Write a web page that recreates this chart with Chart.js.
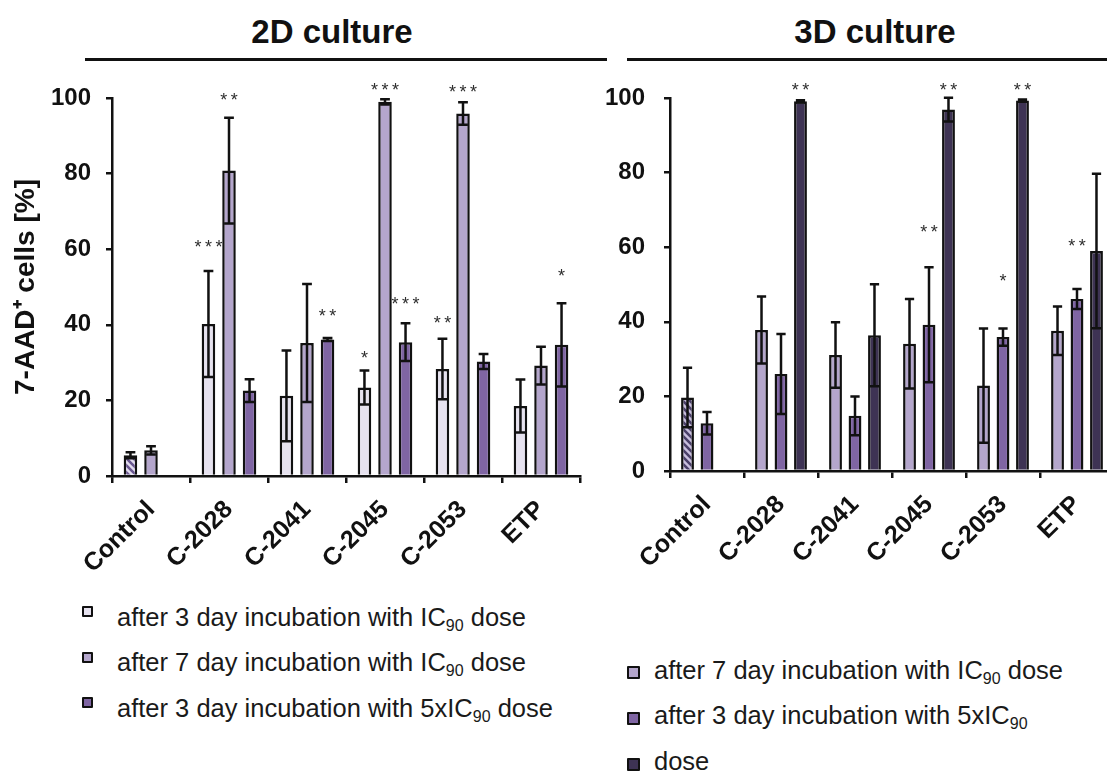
<!DOCTYPE html>
<html>
<head>
<meta charset="utf-8">
<script src="https://cdn.jsdelivr.net/npm/chart.js@4.4.1/dist/chart.umd.min.js"></script>
<style>
  body { margin: 0; background: #fff; width: 1107px; height: 776px; overflow: hidden; position: relative;
         font-family: "Liberation Sans", Arial, sans-serif; color: #1a1a1a; }
  .titulo { position: absolute; width: 300px; text-align: center; font-weight: bold; font-size: 33px; line-height: 33px; color: #111; }
  .linha { position: absolute; top: 58px; height: 2.5px; background: #111; }
  .caixa { position: absolute; overflow: hidden; }
  .item { position: absolute; white-space: nowrap; font-size: 25.5px; line-height: 25.5px; }
  .item sub { font-size: 16px; vertical-align: -5px; line-height: 0; }
  .quad { position: absolute; border: 2px solid #111; box-sizing: border-box; border-radius: 1px; }
</style>
</head>
<body>

<div class="titulo" style="left:182px; top:15px;">2D culture</div>
<div class="linha" style="left:85px; width:522px;"></div>
<div class="titulo" style="left:725px; top:15px;">3D culture</div>
<div class="linha" style="left:627px; width:480px;"></div>

<div class="caixa" style="left:0; top:80px; width:600px; height:520px;">
  <canvas id="Grafico2D" width="600" height="520"></canvas>
</div>
<div class="caixa" style="left:600px; top:80px; width:507px; height:520px;">
  <canvas id="Grafico3D" width="530" height="520"></canvas>
</div>

<!-- legendas -->
<div class="quad" style="left:82px; top:606px; width:11px; height:11px; background:#e6e2ef;"></div>
<div class="item" style="left:117px; top:605px;">after 3 day incubation with IC<sub>90</sub> dose</div>
<div class="quad" style="left:82px; top:652px; width:11px; height:11px; background:#b4a6cc;"></div>
<div class="item" style="left:117px; top:650px;">after 7 day incubation with IC<sub>90</sub> dose</div>
<div class="quad" style="left:82px; top:697px; width:11px; height:11px; background:#7f65a3;"></div>
<div class="item" style="left:117px; top:696px;">after 3 day incubation with 5xIC<sub>90</sub> dose</div>

<div class="quad" style="left:627px; top:666px; width:13px; height:13px; background:#b4a6cc;"></div>
<div class="item" style="left:654px; top:658px;">after 7 day incubation with IC<sub>90</sub> dose</div>
<div class="quad" style="left:627px; top:712px; width:13px; height:13px; background:#7f65a3;"></div>
<div class="item" style="left:654px; top:703px;">after 3 day incubation with 5xIC<sub>90</sub></div>
<div class="quad" style="left:627px; top:758px; width:13px; height:13px; background:#3e3354;"></div>
<div class="item" style="left:654px; top:749px;">dose</div>

<script>
// categorias e valores
var categorias = ['Control', 'C-2028', 'C-2041', 'C-2045', 'C-2053', 'ETP'];
var ticksY = [0, 20, 40, 60, 80, 100];

// 2D culture
var valores2D_3dIC90 = [5.5, 40.2, 21.2, 23.4, 28.3, 18.5];
var erro2D_3dIC90    = [0.8, 14.0, 12.0, 4.5, 8.0, 7.0];
var valores2D_7dIC90 = [6.8, 80.8, 35.2, 99.0, 95.9, 29.2];
var erro2D_7dIC90    = [1.1, 14.0, 15.6, 0.7, 3.0, 5.0];
var valores2D_3d5x   = [null, 22.6, 36.1, 35.4, 30.3, 34.7];
var erro2D_3d5x      = [null, 3.0, 0.4, 5.0, 2.0, 11.0];

var estrelas2D_3dIC90 = ['', '***', '', '*', '**', ''];
var nivel2D_3dIC90    = [null, 61.7, null, 32.2, 41.6, null];
var estrelas2D_7dIC90 = ['', '**', '', '***', '***', ''];
var nivel2D_7dIC90    = [null, 100.6, null, 103.1, 102.6, null];
var estrelas2D_3d5x   = ['', '', '**', '***', '', '*'];
var nivel2D_3d5x      = [null, null, 43.4, 46.5, null, 53.9];

// 3D culture
var valores3D_7dIC90 = [19.7, 37.8, 31.1, 34.1, 22.9, 37.6];
var erro3D_7dIC90    = [8.0, 9.0, 8.8, 12.0, 15.3, 6.5];
var valores3D_3d5x   = [12.8, 26.0, 14.8, 39.2, 35.9, 46.1];
var erro3D_3d5x      = [3.0, 10.7, 5.2, 15.4, 2.3, 2.7];
var valores3D_dose   = [null, 99.1, 36.4, 96.9, 99.3, 59.0];
var erro3D_dose      = [null, 0.3, 13.7, 3.2, 0.3, 20.7];

var estrelas3D_7dIC90 = ['', '', '', '', '', ''];
var nivel3D_7dIC90    = [null, null, null, null, null, null];
var estrelas3D_3d5x   = ['', '', '', '**', '*', '**'];
var nivel3D_3d5x      = [null, null, null, 65.1, 52.1, 61.5];
var estrelas3D_dose   = ['', '**', '', '**', '**', ''];
var nivel3D_dose      = [null, 103.1, null, 103.1, 103.1, null];

var fonte = '"Liberation Sans", Arial, sans-serif';
Chart.defaults.font.family = fonte;
Chart.defaults.color = '#111';

// padrao listrado das barras de controle
function listrado(corFundo, corListra) {
    var p = document.createElement('canvas');
    p.width = 7; p.height = 7;
    var g = p.getContext('2d');
    g.fillStyle = corFundo;
    g.fillRect(0, 0, 7, 7);
    g.strokeStyle = corListra;
    g.lineWidth = 2.6;
    g.beginPath();
    for (var k = -1; k <= 1; k++) {
        g.moveTo(-1, k * 7 - 1);
        g.lineTo(8, k * 7 + 8);
    }
    g.stroke();
    return g.createPattern(p, 'repeat');
}

// barras de erro e asteriscos
var barrasErro = {
    id: 'barrasErro',
    afterDatasetsDraw: function (chart) {
        var ctx = chart.ctx;
        var escala = chart.scales.y;
        chart.data.datasets.forEach(function (ds, i) {
            var meta = chart.getDatasetMeta(i);
            meta.data.forEach(function (barra, j) {
                var v = ds.data[j];
                if (v == null) return;
                var e = ds.erro[j];
                var topo = escala.getPixelForValue(v + e);
                var base = escala.getPixelForValue(v - e);
                var meia = barra.width * 0.36;
                ctx.save();
                ctx.strokeStyle = '#111';
                ctx.lineWidth = 2.5;
                ctx.beginPath();
                ctx.moveTo(barra.x, base);
                ctx.lineTo(barra.x, topo);
                ctx.moveTo(barra.x - meia, topo);
                ctx.lineTo(barra.x + meia, topo);
                ctx.moveTo(barra.x - meia, base);
                ctx.lineTo(barra.x + meia, base);
                ctx.stroke();

                var est = ds.estrelas[j];
                if (est) {
                    var yEst = escala.getPixelForValue(ds.nivel[j]) + 10;
                    ctx.fillStyle = '#2e2e2e';
                    ctx.font = '18px ' + fonte;
                    ctx.textAlign = 'center';
                    ctx.textBaseline = 'alphabetic';
                    var passo = 10.5;
                    var x0 = barra.x - (est.length - 1) * passo / 2;
                    for (var k = 0; k < est.length; k++) {
                        ctx.fillText('*', x0 + k * passo, yEst);
                    }
                }
                ctx.restore();
            });
        });
    }
};

function serie(dados, erro, estrelas, nivel, cor, padrao) {
    var fundo = dados.map(function (d, i) { return (i === 0 && padrao) ? padrao : cor; });
    return {
        data: dados,
        erro: erro,
        estrelas: estrelas,
        nivel: nivel,
        backgroundColor: fundo,
        borderColor: '#111',
        borderWidth: 2.5,
        categoryPercentage: 0.79,
        barPercentage: 0.66
    };
}

function montarGrafico(id, datasets, larguraY, alturaX, padDir, padTicks, tituloY) {
    var ctx = document.getElementById(id).getContext('2d');
    return new Chart(ctx, {
        type: 'bar',
        data: { labels: categorias, datasets: datasets },
        options: {
            responsive: false,
            animation: false,
            layout: { padding: { top: 18, right: padDir, left: 0, bottom: 0 } },
            plugins: { legend: { display: false }, tooltip: { enabled: false } },
            scales: {
                x: {
                    grid: { offset: true, drawOnChartArea: false, color: '#111', lineWidth: 2.5, tickLength: 7 },
                    border: { color: '#111', width: 2.5 },
                    ticks: { font: { size: 25, weight: 'bold' }, color: '#111', minRotation: 45, maxRotation: 45, padding: 12 },
                    afterFit: function (s) {
                        s.height = alturaX;
                        s.paddingLeft = 0; s.paddingRight = 0;
                    }
                },
                y: {
                    min: 0,
                    max: 100,
                    afterBuildTicks: function (s) { s.ticks = ticksY.map(function (t) { return { value: t }; }); },
                    grid: { drawOnChartArea: false, color: '#111', lineWidth: 2.5, tickLength: 6 },
                    border: { color: '#111', width: 2.5 },
                    ticks: { font: { size: 24, weight: 'bold' }, color: '#111', padding: padTicks },
                    title: {
                        display: !!tituloY,
                        text: tituloY,
                        font: { size: 28, weight: 'bold' },
                        color: '#111',
                        padding: { top: 9, bottom: 0 }
                    },
                    afterFit: function (s) {
                        s.width = larguraY;
                        s.paddingTop = 0; s.paddingBottom = 0;
                    }
                }
            }
        },
        plugins: [barrasErro]
    });
}

montarGrafico('Grafico2D', [
    serie(valores2D_3dIC90, erro2D_3dIC90, estrelas2D_3dIC90, nivel2D_3dIC90, '#e6e2ef', listrado('#e2dcee', '#6a5890')),
    serie(valores2D_7dIC90, erro2D_7dIC90, estrelas2D_7dIC90, nivel2D_7dIC90, '#b4a6cc'),
    serie(valores2D_3d5x, erro2D_3d5x, estrelas2D_3d5x, nivel2D_3d5x, '#7f65a3')
], 112, 124, 20, 15, '7-AAD\u207A cells [%]');

montarGrafico('Grafico3D', [
    serie(valores3D_7dIC90, erro3D_7dIC90, estrelas3D_7dIC90, nivel3D_7dIC90, '#b4a6cc', listrado('#c8bedd', '#4a3f68')),
    serie(valores3D_3d5x, erro3D_3d5x, estrelas3D_3d5x, nivel3D_3d5x, '#7f65a3'),
    serie(valores3D_dose, erro3D_dose, estrelas3D_dose, nivel3D_dose, '#3e3354')
], 70, 129, 16, 19, '');
</script>
</body>
</html>
